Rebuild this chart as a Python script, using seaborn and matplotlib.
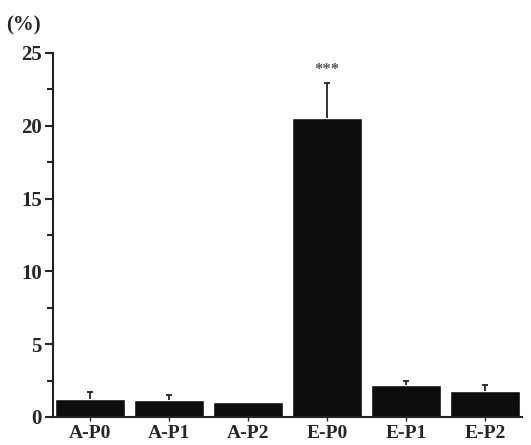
import matplotlib
matplotlib.use("Agg")
import matplotlib.pyplot as plt
import numpy as np
import pandas as pd
import seaborn as sns
from matplotlib.ticker import MultipleLocator

groups = ["A-P0", "A-P1", "A-P2", "E-P0", "E-P1", "E-P2"]
means = [1.2, 1.15, 1.0, 20.5, 2.2, 1.75]
errors = [0.5, 0.35, 0.0, 2.45, 0.3, 0.45]
significance = ["", "", "", "***", "", ""]

df = pd.DataFrame({"group": groups, "value": means, "err": errors})

sns.set_style("ticks")
plt.rcParams["font.family"] = ["Liberation Serif", "DejaVu Serif"]
plt.rcParams["font.weight"] = "bold"

fig = plt.figure(figsize=(5.31, 4.45), dpi=100)
ax = fig.add_axes([0.1, 0.063, 0.883, 0.818])

sns.barplot(data=df, x="group", y="value", color="#0d0d0d", width=0.88,
            saturation=1, errorbar=None, ax=ax)

# upper half of each error bar only
x = np.arange(len(groups))
has_err = df["err"] > 0
top = df["value"] + df["err"]
ax.vlines(x[has_err], df["value"][has_err], top[has_err],
          colors="#222222", linewidth=1.3)
ax.hlines(top[has_err], x[has_err] - 0.04, x[has_err] + 0.04,
          colors="#222222", linewidth=1.3)

for xi, m, e, s in zip(x, means, errors, significance):
    if s:
        ax.text(xi, m + e + 0.35, s, ha="center", va="bottom",
                fontsize=12, color="#555555")

ax.set_xlim(-0.47, 5.47)
ax.set_ylim(0, 25)
ax.yaxis.set_major_locator(MultipleLocator(5))
ax.yaxis.set_minor_locator(MultipleLocator(2.5))
ax.set_xlabel("")
ax.set_ylabel("")
ax.text(-0.1, 1.075, "(%)", transform=ax.transAxes, fontsize=15,
        fontweight="bold", ha="left", va="center")

sns.despine(ax=ax)
for side in ["left", "bottom"]:
    ax.spines[side].set_linewidth(1.5)
    ax.spines[side].set_color("#222222")
ax.tick_params(axis="y", which="major", length=6, width=1.5, labelsize=15, pad=2)
ax.tick_params(axis="y", which="minor", length=4, width=1.5)
ax.tick_params(axis="x", length=3, width=1, labelsize=14, pad=3)
for lab in ax.get_xticklabels() + ax.get_yticklabels():
    lab.set_fontweight("bold")

fig.savefig("out.png", dpi=100)
